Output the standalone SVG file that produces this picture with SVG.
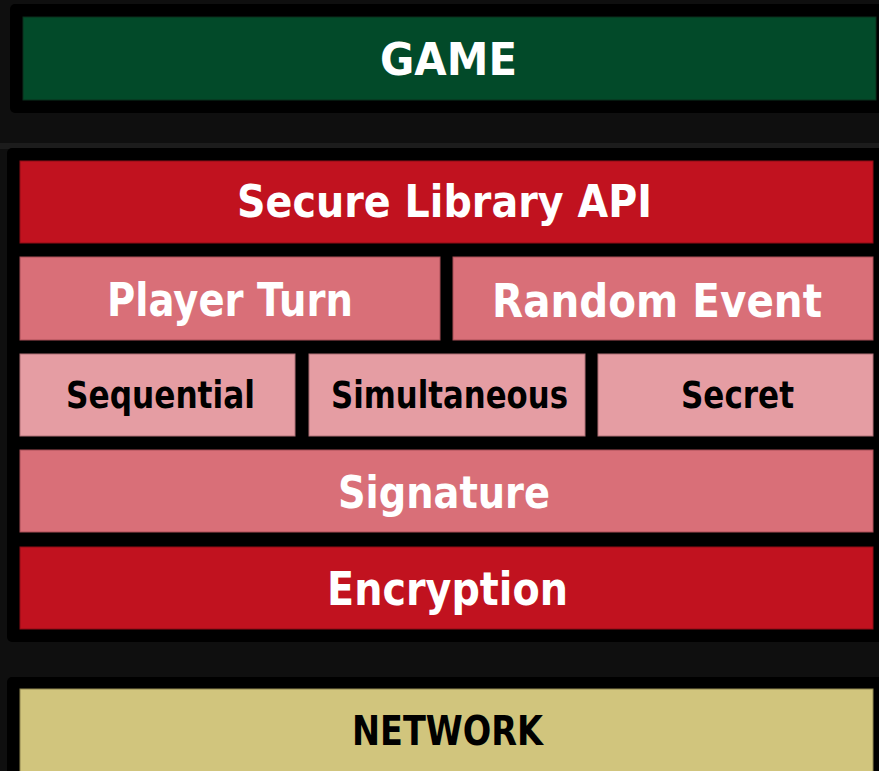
<svg xmlns="http://www.w3.org/2000/svg" width="879" height="771" viewBox="0 0 879 771">
  <style>
    .frame { fill: #000000; }
    .layer { stroke-width: 1; }
    .green { fill: #024a29; stroke: #0a2f1c; }
    .red { fill: #c1121f; stroke: #8f0d17; }
    .mid { fill: #d96f78; stroke: #a84f57; }
    .light { fill: #e59da3; stroke: #b07177; }
    .sand { fill: #d1c57d; stroke: #8f8650; }
    .label { font-family: "DejaVu Sans", "Liberation Sans", sans-serif; font-weight: bold; text-anchor: middle; }
    .white { fill: #ffffff; }
    .black { fill: #000000; }
  </style>

  <!-- backdrop -->
  <rect x="0" y="0" width="879" height="771" fill="#0f0f0f"/>
  <rect x="0" y="143" width="879" height="6" fill="#1c1c1c"/>

  <!-- black frames holding the layers -->
  <rect class="frame" x="10" y="4" width="880" height="109" rx="5"/>
  <rect class="frame" x="7" y="148" width="883" height="494" rx="5"/>
  <rect class="frame" x="7" y="677" width="883" height="110" rx="5"/>

  <g id="game">
    <rect class="layer green" x="23" y="17" width="853" height="83"/>
    <text class="label white" x="448.5" y="75" font-size="44" textLength="137" lengthAdjust="spacingAndGlyphs">GAME</text>
  </g>

  <g id="secure-library-api">
    <rect class="layer red" x="20" y="161" width="853" height="82"/>
    <text class="label white" x="444.5" y="217" font-size="44" textLength="415" lengthAdjust="spacingAndGlyphs">Secure Library API</text>
  </g>

  <g id="player-turn">
    <rect class="layer mid" x="20" y="257" width="420" height="83"/>
    <text class="label white" x="230" y="316" font-size="46" textLength="246" lengthAdjust="spacingAndGlyphs">Player Turn</text>
  </g>

  <g id="random-event">
    <rect class="layer mid" x="453" y="257" width="420" height="83"/>
    <text class="label white" x="657" y="317" font-size="46" textLength="330" lengthAdjust="spacingAndGlyphs">Random Event</text>
  </g>

  <g id="sequential">
    <rect class="layer light" x="20" y="354" width="275" height="82"/>
    <text class="label black" x="160.5" y="408" font-size="37" textLength="189" lengthAdjust="spacingAndGlyphs">Sequential</text>
  </g>

  <g id="simultaneous">
    <rect class="layer light" x="309" y="354" width="276" height="82"/>
    <text class="label black" x="449.5" y="408" font-size="37" textLength="237" lengthAdjust="spacingAndGlyphs">Simultaneous</text>
  </g>

  <g id="secret">
    <rect class="layer light" x="598" y="354" width="275" height="82"/>
    <text class="label black" x="737.5" y="408" font-size="37" textLength="113" lengthAdjust="spacingAndGlyphs">Secret</text>
  </g>

  <g id="signature">
    <rect class="layer mid" x="20" y="450" width="853" height="82"/>
    <text class="label white" x="444" y="508" font-size="45" textLength="212" lengthAdjust="spacingAndGlyphs">Signature</text>
  </g>

  <g id="encryption">
    <rect class="layer red" x="20" y="547" width="853" height="82"/>
    <text class="label white" x="447.5" y="605" font-size="46" textLength="241" lengthAdjust="spacingAndGlyphs">Encryption</text>
  </g>

  <g id="network">
    <rect class="layer sand" x="20" y="689" width="853" height="100"/>
    <text class="label black" x="447.5" y="745" font-size="40" textLength="191" lengthAdjust="spacingAndGlyphs">NETWORK</text>
  </g>
</svg>
